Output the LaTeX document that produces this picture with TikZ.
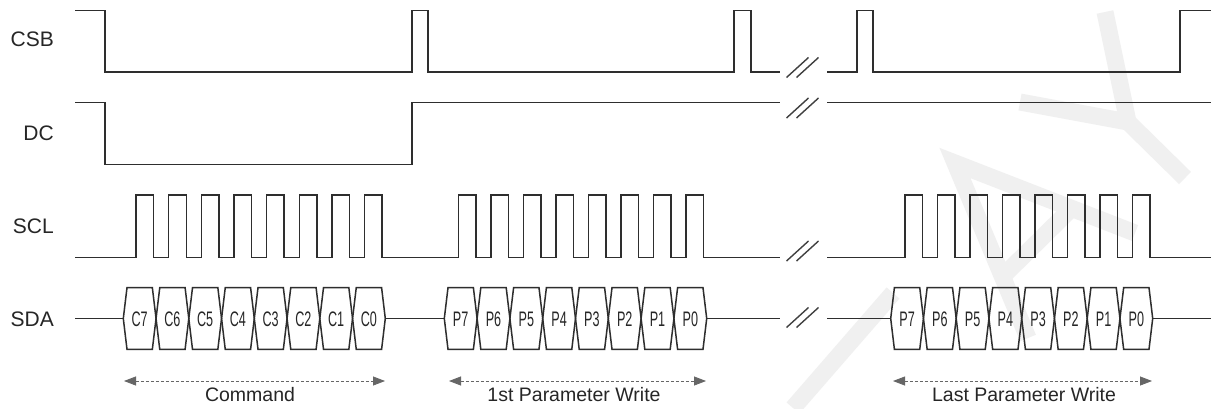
\documentclass[tikz,border=0pt]{standalone}
\usepackage{fontspec}
\setmainfont{Liberation Sans}
\usetikzlibrary{arrows.meta}
\begin{document}
\begin{tikzpicture}[x=1pt,y=-1pt,
  sig/.style={line width=1.5pt, draw=black!82, line join=miter},
  brk/.style={line width=1.4pt, draw=black!75},
  lbl/.style={font=\fontsize{21}{21}\selectfont, text=black!85, anchor=base east, inner sep=0pt},
  bit/.style={font=\fontsize{21}{21}\selectfont, text=black!85, anchor=base, inner sep=0pt, xscale=0.6},
  spanarrow/.style={line width=0.8pt, draw=black!60, dash pattern=on 3pt off 2pt,
     {Triangle[length=12pt,width=9pt]}-{Triangle[length=12pt,width=9pt]}},
  sectlbl/.style={font=\fontsize{19.5}{19.5}\selectfont, text=black!85, anchor=base, inner sep=0pt},
  wm/.style={line width=17pt, draw=black!6}
]
\fill[white] (0,0) rectangle (1213,408);
\useasboundingbox (0,0) rectangle (1213,408);

% watermark
\draw[wm] (1105,12) -- (1128,122) -- (1185,178);
\draw[wm] (1020,102) -- (1128,122);
\draw[wm] (1028,338) -- (955,163) -- (1135,233);
\draw[wm] (1002,277) -- (1072,208);
\draw[wm] (793,408) -- (893,293);

% signal names
\node[lbl] (nCSB) at (54,46.7) {CSB};
\node[lbl] (nDC)  at (54,140) {DC};
\node[lbl] (nSCL) at (54,233) {SCL};
\node[lbl] (nSDA) at (54,326.7) {SDA};

% CSB
\draw[sig] (75,10.3) -- (105,10.3) -- (105,72) -- (412,72) -- (412,10.3) -- (428,10.3) -- (428,72)
  -- (734,72) -- (734,10.3) -- (751,10.3) -- (751,72) -- (780,72);
\draw[sig] (827,72) -- (857,72) -- (857,10.3) -- (873,10.3) -- (873,72) -- (1180,72) -- (1180,10.3) -- (1211,10.3);

% DC
\draw[sig] (75,102.7) -- (105,102.7) -- (105,164.7) -- (412,164.7) -- (412,102.7) -- (780,102.7);
\draw[sig] (827,102.7) -- (1211,102.7);

% SCL
\draw[sig] (75,257.7)
  foreach \k in {0,...,7} { -- ({136+32.65*\k},257.7) |- ({153.6+32.65*\k},195) -- ({153.6+32.65*\k},257.7) }
  foreach \k in {0,...,7} { -- ({458.3+32.5*\k},257.7) |- ({475.9+32.5*\k},195) -- ({475.9+32.5*\k},257.7) }
  -- (780,257.7);
\draw[sig] (827,257.7)
  foreach \k in {0,...,7} { -- ({905+32.5*\k},257.7) |- ({922.3+32.5*\k},195) -- ({922.3+32.5*\k},257.7) }
  -- (1211,257.7);

% SDA lines
\draw[sig] (75,318.5) -- (123.3,318.5);
\draw[sig] (385.3,318.5) -- (444.3,318.5);
\draw[sig] (706.7,318.5) -- (780,318.5);
\draw[sig] (827,318.5) -- (890.7,318.5);
\draw[sig] (1152.7,318.5) -- (1211,318.5);

% SDA bytes
\foreach \xs/\pre/\w in {123.3/C/32.75, 444.3/P/32.8, 890.7/P/32.75} {
  \foreach \k in {0,...,7} {
    \pgfmathsetmacro\xa{\xs+\k*\w}
    \pgfmathsetmacro\wi{\w-7.4}
    \pgfmathtruncatemacro\nb{7-\k}
    \draw[sig] (\xa,318.5) -- ++(3.7,-30.8) -- ++(\wi,0) -- ++(3.7,30.8) -- ++(-3.7,30.8) -- ++(-\wi,0) -- cycle;
    \node[bit] at ({\xa+\w/2},326) {\pre\nb};
  }
}

% break marks
\foreach \yc in {67.5,108,251,317.5} {
  \draw[brk] (786.5,{\yc+10}) -- (808.5,{\yc-10});
  \draw[brk] (796.5,{\yc+10}) -- (818.5,{\yc-10});
}

% span arrows
\coordinate (cA) at (124,381);  \coordinate (cB) at (385,381);
\coordinate (pA) at (449,381);  \coordinate (pB) at (706,381);
\coordinate (lA) at (893,381);  \coordinate (lB) at (1152,381);
\draw[spanarrow] (cA) -- (cB);
\draw[spanarrow] (pA) -- (pB);
\draw[spanarrow] (lA) -- (lB);
\node[sectlbl] (tCmd) at (250,401.7) {Command};
\node[sectlbl] (tFirst) at (574,401.7) {1st Parameter Write};
\node[sectlbl] (tLast) at (1024,401.7) {Last Parameter Write};
\end{tikzpicture}
\end{document}
